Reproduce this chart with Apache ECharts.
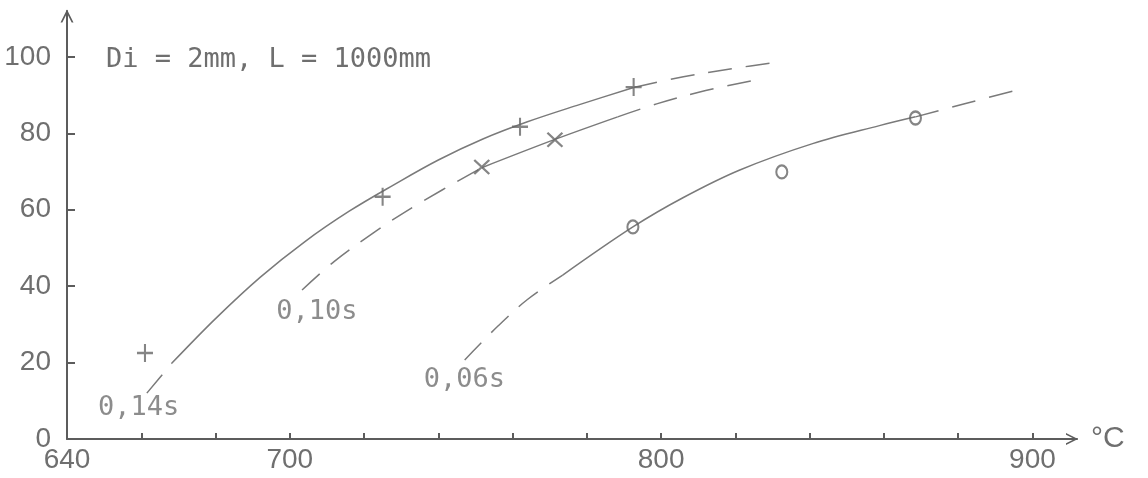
<!DOCTYPE html>
<html>
<head>
<meta charset="utf-8">
<script src="https://cdn.jsdelivr.net/npm/echarts@6/dist/echarts.min.js"></script>
<style>
  html, body { margin: 0; padding: 0; background: #fff; }
  #main { width: 1148px; height: 478px; }
</style>
</head>
<body>
<div id="main"></div>
<script>
// measured points, temperature (°C) vs. value (%)
var plusT = [661, 725, 762, 792.6];      // 0,14s
var plusY = [22.5, 63.4, 81.7, 92.1];
var crossT = [751.7, 771.4];             // 0,10s
var crossY = [71.2, 78.3];
var circT = [792.4, 832.5, 868.5];       // 0,06s
var circY = [55.5, 69.9, 84.0];

// hand drawn curves
var c14Solid = [[668.2, 19.8], [680, 31.5], [692, 42.3], [704, 51.6], [716, 59.6], [728, 66.5],
                [740, 73], [752, 78.5], [764, 83], [778, 87.5], [792.6, 92]];
var c14DashLow = [[661.5, 12], [668.2, 19.8]];
var c14DashHigh = [[792.6, 92], [806, 94.8], [819, 96.9], [832, 98.7]];

var c10DashLow = [[703.3, 39.0], [712, 46.5], [722.9, 54.2], [734.2, 61.3], [751.7, 71.0]];
var c10Solid = [[751.7, 71.0], [771.4, 78.4], [788.3, 84.3]];
var c10DashHigh = [[788.3, 84.3], [798.8, 87.7], [812, 91.2], [825.7, 94.0]];

var c06DashLow = [[747.1, 20.7], [756, 29.5], [764, 36.5], [773.5, 42.9]];
var c06Solid = [[773.5, 42.9], [792.4, 55.5], [806, 63.2], [821.2, 70.4], [840.8, 77.3], [858.8, 82.0], [868.5, 84.3]];
var c06DashHigh = [[868.5, 84.3], [882, 87.8], [894.6, 91.0]];

var curveNames = ['0,14s', '0,10s', '0,06s'];
var curveLabelPos = [[659.3, 8.1], [707.3, 33.2], [747, 15.4]];

var xTicks = [640, 660, 680, 700, 720, 740, 760, 780, 800, 820, 840, 860, 880, 900];
var xLabels = [640, 700, 800, 900];
var yTicks = [0, 20, 40, 60, 80, 100];

var ink = '#6f6f6f';
var axisInk = '#5c5c5c';
var lineInk = '#7a7a7a';
var sans = '"Liberation Sans", Arial, sans-serif';
var mono = '"DejaVu Sans Mono", "Liberation Mono", monospace';
var chevron = 'path://M0,10L5,0L10,10L8.6,10L5,2.8L1.4,10Z';

var zip = function (xs, ys) {
  return xs.map(function (x, i) { return [x, ys[i]]; });
};

var curve = function (data, dashed) {
  return {
    type: 'line',
    data: data,
    smooth: 0.35,
    showSymbol: false,
    silent: true,
    lineStyle: {
      color: lineInk,
      width: 1.5,
      type: dashed ? [24, 14] : 'solid'
    },
    z: 2
  };
};

var marks = function (data, symbol, size) {
  return {
    type: 'scatter',
    data: data,
    symbol: symbol,
    symbolSize: size,
    itemStyle: {
      color: 'rgba(0,0,0,0)',
      borderColor: '#666',
      borderWidth: 2.2
    },
    z: 3
  };
};

var myChart = echarts.init(document.getElementById('main'));

var option = {
  backgroundColor: '#fff',
  animation: false,
  title: {
    text: 'Di = 2mm, L = 1000mm',
    left: 101,
    top: 41,
    textStyle: {
      fontFamily: mono,
      fontWeight: 'normal',
      fontSize: 27,
      color: ink
    }
  },
  grid: {
    left: 67,
    right: 71,
    top: 11,
    bottom: 39
  },
  xAxis: {
    type: 'value',
    min: 640,
    max: 912,
    name: '°C',
    nameLocation: 'end',
    nameGap: 14,
    nameTextStyle: {
      fontFamily: sans,
      fontSize: 30,
      color: ink,
      verticalAlign: 'middle',
      padding: [30, 0, 0, 0]
    },
    splitLine: { show: false },
    axisLine: {
      lineStyle: { color: axisInk, width: 2 },
      symbol: ['none', chevron],
      symbolSize: [16, 12],
      symbolOffset: [0, -5]
    },
    axisTick: {
      inside: true,
      length: 6,
      customValues: xTicks,
      lineStyle: { color: axisInk, width: 2 }
    },
    axisLabel: {
      customValues: xLabels,
      margin: 7,
      fontFamily: sans,
      fontSize: 28,
      color: ink
    }
  },
  yAxis: {
    type: 'value',
    min: 0,
    max: 112,
    splitLine: { show: false },
    axisLine: {
      lineStyle: { color: axisInk, width: 2 },
      symbol: ['none', chevron],
      symbolSize: [15, 13],
      symbolOffset: [0, -5]
    },
    axisTick: {
      inside: true,
      length: 8,
      customValues: yTicks,
      lineStyle: { color: axisInk, width: 2 }
    },
    axisLabel: {
      customValues: yTicks,
      margin: 16,
      fontFamily: sans,
      fontSize: 28,
      color: ink
    }
  },
  series: [
    curve(c14Solid, false),
    curve(c14DashLow, true),
    curve(c14DashHigh, true),
    curve(c10DashLow, true),
    curve(c10Solid, false),
    curve(c10DashHigh, true),
    curve(c06DashLow, true),
    curve(c06Solid, false),
    curve(c06DashHigh, true),
    marks(zip(plusT, plusY), 'path://M5,0L5,10M0,5L10,5', [16, 18]),
    marks(zip(crossT, crossY), 'path://M0,0L10,10M10,0L0,10', [15, 14]),
    marks(zip(circT, circY), 'circle', [11, 13]),
    {
      type: 'scatter',
      data: curveLabelPos,
      symbolSize: 1,
      itemStyle: { color: 'rgba(0,0,0,0)' },
      label: {
        show: true,
        position: 'inside',
        formatter: function (p) { return curveNames[p.dataIndex]; },
        fontFamily: mono,
        fontSize: 27,
        color: ink
      },
      silent: true
    }
  ]
};

myChart.setOption(option);
</script>
</body>
</html>
